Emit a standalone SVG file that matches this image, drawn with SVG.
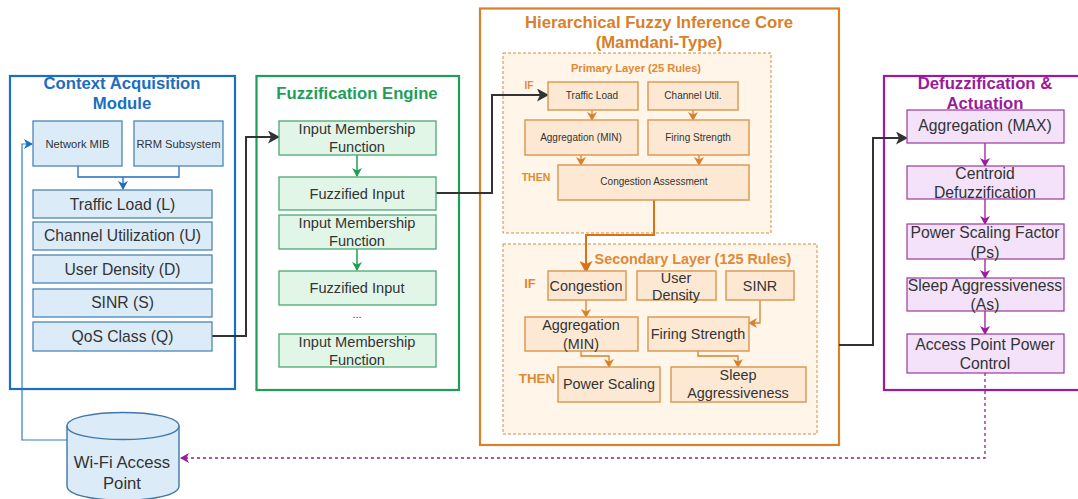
<svg xmlns="http://www.w3.org/2000/svg" width="1078" height="499" viewBox="0 0 1078 499">
<style>
text{font-family:"Liberation Sans",Arial,sans-serif;text-anchor:middle;fill:#333}
.t14{font-size:15.7px}.fz{font-size:14.6px}.t13{font-size:14.4px}.t9{font-size:10px}.mib{font-size:11.2px}
.title{font-weight:bold;font-size:16.7px}
.b{fill:#dcebf8;stroke:#4d86b5;stroke-width:1.3}
.g{fill:#e2f6e8;stroke:#4aa873;stroke-width:1.3}
.o{fill:#fde8d3;stroke:#dc9a55;stroke-width:1.5}
.p{fill:#f3e2fa;stroke:#9c3a9c;stroke-width:1.2}
.lay{fill:#fff5e9;stroke:#d98a3d;stroke-width:1;stroke-dasharray:3 2}
.kw{font-weight:bold;fill:#df8a35}
</style>
<defs>
<marker id="ab" markerWidth="10" markerHeight="10" refX="8" refY="5" orient="auto" markerUnits="userSpaceOnUse"><path d="M0 0L9 5L0 10L2.5 5Z" fill="#1b6ec2"/></marker>
<marker id="ag" markerWidth="10" markerHeight="10" refX="8" refY="5" orient="auto" markerUnits="userSpaceOnUse"><path d="M0 0L9 5L0 10L2.5 5Z" fill="#1f9e5a"/></marker>
<marker id="ao" markerWidth="10" markerHeight="10" refX="8" refY="5" orient="auto" markerUnits="userSpaceOnUse"><path d="M0 0L9 5L0 10L2.5 5Z" fill="#d9802a"/></marker>
<marker id="aO" markerWidth="13" markerHeight="13" refX="10" refY="6.5" orient="auto" markerUnits="userSpaceOnUse"><path d="M0 0L12 6.5L0 13L3 6.5Z" fill="#d9701a"/></marker>
<marker id="ap" markerWidth="10" markerHeight="10" refX="8" refY="5" orient="auto" markerUnits="userSpaceOnUse"><path d="M0 0L9 5L0 10L2.5 5Z" fill="#9c1a9c"/></marker>
<marker id="ak" markerWidth="13" markerHeight="13" refX="10" refY="6.5" orient="auto" markerUnits="userSpaceOnUse"><path d="M0 0L12 6.5L0 13L3 6.5Z" fill="#333"/></marker>
</defs>

<g id="context">
<rect x="10" y="76" width="225" height="313" fill="#fff" stroke="#1b6ec2" stroke-width="2.2"/>
<text class="title" x="122" y="89" style="fill:#1b6ec2">Context Acquisition</text>
<text class="title" x="122" y="109" style="fill:#1b6ec2">Module</text>
</g>
<g id="fuzz">
<rect x="256.500" y="76" width="202.500" height="314" fill="#fff" stroke="#1f9e5a" stroke-width="2.2"/>
<text class="title" x="357" y="99" style="fill:#1f9e5a">Fuzzification Engine</text>
</g>
<g id="core">
<rect x="480" y="8.500" width="359" height="436.500" fill="#fff" stroke="#d9802a" stroke-width="2.2"/>
<text class="title" x="659" y="28" style="fill:#d9802a">Hierarchical Fuzzy Inference Core</text>
<text class="title" x="659" y="48" style="fill:#d9802a">(Mamdani-Type)</text>
</g>
<g id="defuzz">
<rect x="884" y="76" width="200" height="314" fill="#fff" stroke="#9c1a9c" stroke-width="2.2"/>
<text class="title" x="985" y="89" style="fill:#9c1a9c">Defuzzification &amp;</text>
<text class="title" x="985" y="109" style="fill:#9c1a9c">Actuation</text>
</g>
<g id="primary-layer">
<rect class="lay" x="503" y="53" width="268" height="180"/>
<text x="636" y="72" font-size="11.100" font-weight="bold" style="fill:#df8a35">Primary Layer (25 Rules)</text>
<text class="kw" x="529" y="89" font-size="10">IF</text>
<text class="kw" x="536" y="181" font-size="10.500">THEN</text>
</g>
<g id="secondary-layer">
<rect class="lay" x="503" y="244" width="314" height="190"/>
<text x="693" y="264" font-size="14.400" font-weight="bold" style="fill:#df8a35">Secondary Layer (125 Rules)</text>
<text class="kw" x="530" y="288" font-size="13">IF</text>
<text class="kw" x="537" y="383" font-size="13.400">THEN</text>
</g>

<g id="connectors" fill="none">
<path d="M78 166V177H179V166M123 177V189" stroke="#1b6ec2" stroke-width="1.300" marker-end="url(#ab)"/>
<path d="M67 440H22V144H32" stroke="#2f7fc4" stroke-width="1.200" marker-end="url(#ab)"/>
<path d="M212 336H246V137H278" stroke="#333" stroke-width="2" marker-end="url(#ak)"/>
<path d="M357 155V176" stroke="#1f9e5a" stroke-width="1.500" marker-end="url(#ag)"/>
<path d="M357 249V270" stroke="#1f9e5a" stroke-width="1.500" marker-end="url(#ag)"/>
<path d="M436 193H492V95H547" stroke="#333" stroke-width="2" marker-end="url(#ak)"/>
<path d="M592 110V120" stroke="#d9802a" stroke-width="1.300" marker-end="url(#ao)"/>
<path d="M693 110V120" stroke="#d9802a" stroke-width="1.300" marker-end="url(#ao)"/>
<path d="M581 155V165" stroke="#d9802a" stroke-width="1.300" marker-end="url(#ao)"/>
<path d="M699 155V165" stroke="#d9802a" stroke-width="1.300" marker-end="url(#ao)"/>
<path d="M654 200V235H586V271" stroke="#d9701a" stroke-width="2" marker-end="url(#aO)"/>
<path d="M586 300V317" stroke="#d9802a" stroke-width="1.300" marker-end="url(#ao)"/>
<path d="M760 300V323H749" stroke="#d9802a" stroke-width="1.300" marker-end="url(#ao)"/>
<path d="M581 351V356H609V367" stroke="#d9802a" stroke-width="1.300" marker-end="url(#ao)"/>
<path d="M698 351V356H738V367" stroke="#d9802a" stroke-width="1.300" marker-end="url(#ao)"/>
<path d="M839 345H873V138H906" stroke="#333" stroke-width="2" marker-end="url(#ak)"/>
<path d="M985 143V166" stroke="#9c1a9c" stroke-width="1.300" marker-end="url(#ap)"/>
<path d="M985 199V224" stroke="#9c1a9c" stroke-width="1.300" marker-end="url(#ap)"/>
<path d="M985 259V278" stroke="#9c1a9c" stroke-width="1.300" marker-end="url(#ap)"/>
<path d="M985 311V334" stroke="#9c1a9c" stroke-width="1.300" marker-end="url(#ap)"/>
<path d="M985 373V458H181" stroke="#9c1a9c" stroke-width="1.300" stroke-dasharray="3 3" marker-end="url(#ap)"/>
</g>

<g id="network-mib"><rect class="b" x="33" y="121" width="89" height="45"/><text class="mib" x="77.500" y="148">Network MIB</text></g>
<g id="rrm"><rect class="b" x="134" y="121" width="89" height="45"/><text class="mib" x="178.500" y="148">RRM Subsystem</text></g>
<g id="traffic"><rect class="b" x="33" y="190" width="179" height="28"/><text class="t14" x="122.500" y="210">Traffic Load (L)</text></g>
<g id="channel"><rect class="b" x="33" y="222" width="179" height="28"/><text class="t14" x="122.500" y="241">Channel Utilization (U)</text></g>
<g id="user"><rect class="b" x="33" y="255" width="179" height="28"/><text class="t14" x="122.500" y="275">User Density (D)</text></g>
<g id="sinr"><rect class="b" x="33" y="289" width="179" height="28"/><text class="t14" x="122.500" y="308">SINR (S)</text></g>
<g id="qos"><rect class="b" x="33" y="322" width="179" height="29"/><text class="t14" x="122.500" y="342">QoS Class (Q)</text></g>

<g id="wifi">
<path d="M67 426C67 408 179 408 179 426V486C179 505 67 505 67 486Z" fill="#dcebf8" stroke="#3f78a8" stroke-width="1.400"/>
<path d="M67 426C67 444 179 444 179 426" fill="none" stroke="#3f78a8" stroke-width="1.400"/>
<text x="122" y="468" font-size="16.700">Wi-Fi Access</text>
<text x="122" y="489" font-size="16.700">Point</text>
</g>

<g id="imf1"><rect class="g" x="279" y="121" width="157" height="34"/><text class="fz" x="357" y="134">Input Membership</text><text class="fz" x="357" y="152">Function</text></g>
<g id="fi1"><rect class="g" x="279" y="177" width="157" height="33"/><text class="fz" x="357" y="199">Fuzzified Input</text></g>
<g id="imf2"><rect class="g" x="279" y="215" width="157" height="34"/><text class="fz" x="357" y="228">Input Membership</text><text class="fz" x="357" y="246">Function</text></g>
<g id="fi2"><rect class="g" x="279" y="271" width="157" height="34"/><text class="fz" x="357" y="293">Fuzzified Input</text></g>
<text x="357" y="318" font-size="11">...</text>
<g id="imf3"><rect class="g" x="279" y="334" width="157" height="33"/><text class="fz" x="357" y="347">Input Membership</text><text class="fz" x="357" y="365">Function</text></g>

<g id="p-traffic"><rect class="o" x="548" y="82" width="90" height="28"/><text class="t9" x="592" y="99">Traffic Load</text></g>
<g id="p-channel"><rect class="o" x="648" y="82" width="90" height="28"/><text class="t9" x="693" y="99">Channel Util.</text></g>
<g id="p-agg"><rect class="o" x="525" y="120" width="113" height="35"/><text class="t9" x="581" y="141">Aggregation (MIN)</text></g>
<g id="p-fire"><rect class="o" x="648" y="120" width="101" height="35"/><text class="t9" x="698" y="141">Firing Strength</text></g>
<g id="p-cong"><rect class="o" x="558" y="165" width="191" height="35"/><text class="t9" x="654" y="185">Congestion Assessment</text></g>

<g id="s-cong"><rect class="o" x="548" y="271" width="78" height="29"/><text class="t13" x="586" y="291">Congestion</text></g>
<g id="s-user"><rect class="o" x="637" y="271" width="79" height="29"/><text class="t13" x="676" y="283">User</text><text class="t13" x="676" y="300">Density</text></g>
<g id="s-sinr"><rect class="o" x="726" y="271" width="68" height="29"/><text class="t13" x="760" y="291">SINR</text></g>
<g id="s-agg"><rect class="o" x="525" y="317" width="113" height="34"/><text class="t13" x="581" y="330">Aggregation</text><text class="t13" x="581" y="349">(MIN)</text></g>
<g id="s-fire"><rect class="o" x="648" y="317" width="101" height="34"/><text class="t13" x="698" y="339">Firing Strength</text></g>
<g id="s-power"><rect class="o" x="558" y="367" width="102" height="35"/><text class="t13" x="609" y="389">Power Scaling</text></g>
<g id="s-sleep"><rect class="o" x="671" y="367" width="135" height="35"/><text class="t13" x="738" y="380">Sleep</text><text class="t13" x="738" y="398">Aggressiveness</text></g>

<g id="d-agg"><rect class="p" x="907" y="110" width="157" height="33"/><text class="t14" x="985" y="131">Aggregation (MAX)</text></g>
<g id="d-cent"><rect class="p" x="907" y="166" width="157" height="33"/><text class="t14" x="985" y="179">Centroid</text><text class="t14" x="985" y="198">Defuzzification</text></g>
<g id="d-power"><rect class="p" x="907" y="224" width="157" height="35"/><text class="t14" x="985" y="238">Power Scaling Factor</text><text class="t14" x="985" y="258">(Ps)</text></g>
<g id="d-sleep"><rect class="p" x="907" y="278" width="157" height="33"/><text class="t14" x="985" y="291">Sleep Aggressiveness</text><text class="t14" x="985" y="310">(As)</text></g>
<g id="d-ap"><rect class="p" x="907" y="334" width="157" height="39"/><text class="t14" x="985" y="350">Access Point Power</text><text class="t14" x="985" y="369">Control</text></g>
</svg>
